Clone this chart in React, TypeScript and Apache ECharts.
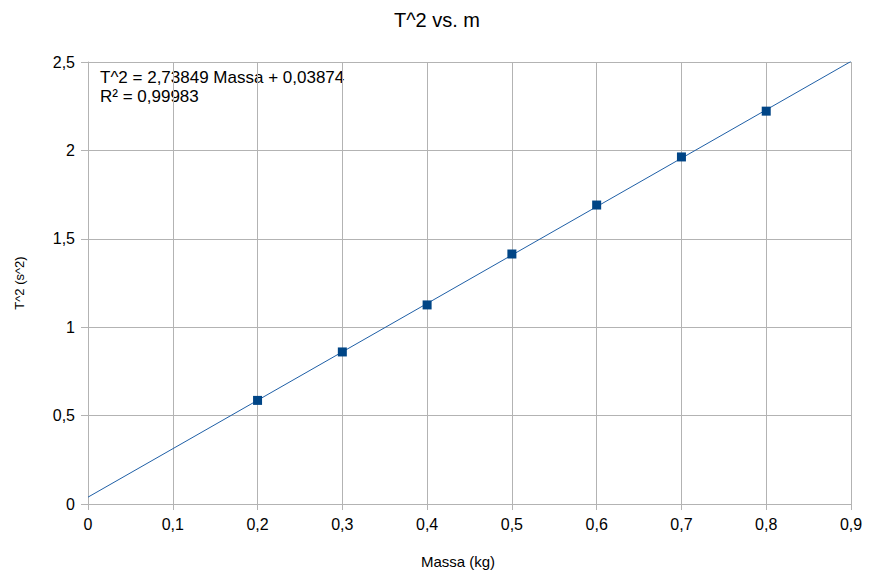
import React, { useEffect, useRef } from "react";
import * as echarts from "echarts";

const massa = [0.2, 0.3, 0.4, 0.5, 0.6, 0.7, 0.8];
const tSquared = [0.586, 0.86, 1.126, 1.414, 1.691, 1.963, 2.222];
const slope = 2.73849;
const intercept = 0.03874;
const rSquared = "0,99983";
const trendX = [0, 0.9];

const FONT = "Liberation Sans, Arial, sans-serif";
const fmt = (v: number) => String(Math.round(v * 100) / 100).replace(".", ",");

export default function App() {
  const ref = useRef<HTMLDivElement>(null);
  useEffect(() => {
    if (!ref.current) return;
    const chart = echarts.init(ref.current, undefined, { renderer: "svg" });
    chart.setOption({
      animation: false,
      backgroundColor: "#ffffff",
      textStyle: { fontFamily: FONT },
      title: {
        text: "T^2 vs. m",
        left: "center",
        top: 5,
        textStyle: { fontFamily: FONT, fontSize: 20, fontWeight: "normal", color: "#000" },
      },
      grid: { left: 88, right: 23, top: 62, bottom: 67, containLabel: false, outerBoundsMode: "none" },
      xAxis: {
        type: "value",
        min: 0,
        max: 0.9,
        interval: 0.1,
        name: "Massa (kg)",
        nameLocation: "middle",
        nameGap: 50,
        nameTextStyle: { fontFamily: FONT, fontSize: 15, color: "#000", padding: [0, 23, 0, 0] },
        axisLine: { show: true, lineStyle: { color: "#b3b3b3", width: 1 } },
        axisTick: { show: true, length: 6, lineStyle: { color: "#b3b3b3" } },
        axisLabel: { formatter: fmt, fontFamily: FONT, fontSize: 16, color: "#000", margin: 12 },
        splitLine: { show: true, lineStyle: { color: "#b3b3b3", width: 1 } },
      },
      yAxis: {
        type: "value",
        min: 0,
        max: 2.5,
        interval: 0.5,
        name: "T^2 (s^2)",
        nameLocation: "middle",
        nameGap: 62,
        nameRotate: 90,
        nameTextStyle: { fontFamily: FONT, fontSize: 13, color: "#000" },
        axisLine: { show: true, lineStyle: { color: "#b3b3b3", width: 1 } },
        axisTick: { show: true, length: 7, lineStyle: { color: "#b3b3b3" } },
        axisLabel: { formatter: fmt, fontFamily: FONT, fontSize: 16, color: "#000", margin: 13 },
        splitLine: { show: true, lineStyle: { color: "#b3b3b3", width: 1 } },
      },
      graphic: [
        {
          type: "text",
          left: 100,
          top: 68,
          style: {
            text: `T^2 = ${String(slope).replace(".", ",")} Massa + ${String(intercept).replace(".", ",")}\nR² = ${rSquared}`,
            font: `17px ${FONT}`,
            fill: "#000",
            lineHeight: 19,
          },
        },
      ],
      series: [
        {
          type: "line",
          data: trendX.map((x) => [x, slope * x + intercept]),
          showSymbol: false,
          symbol: "none",
          clip: true,
          lineStyle: { color: "#1f5fa6", width: 1 },
          z: 2,
        },
        {
          type: "scatter",
          data: massa.map((m, i) => [m, tSquared[i]]),
          symbol: "rect",
          symbolSize: 9,
          itemStyle: { color: "#004586", opacity: 1 },
          z: 3,
        },
      ],
    });
    return () => chart.dispose();
  }, []);
  return (
    <div
      ref={ref}
      style={{ position: "fixed", left: 0, top: 0, width: 874, height: 571 }}
    />
  );
}
